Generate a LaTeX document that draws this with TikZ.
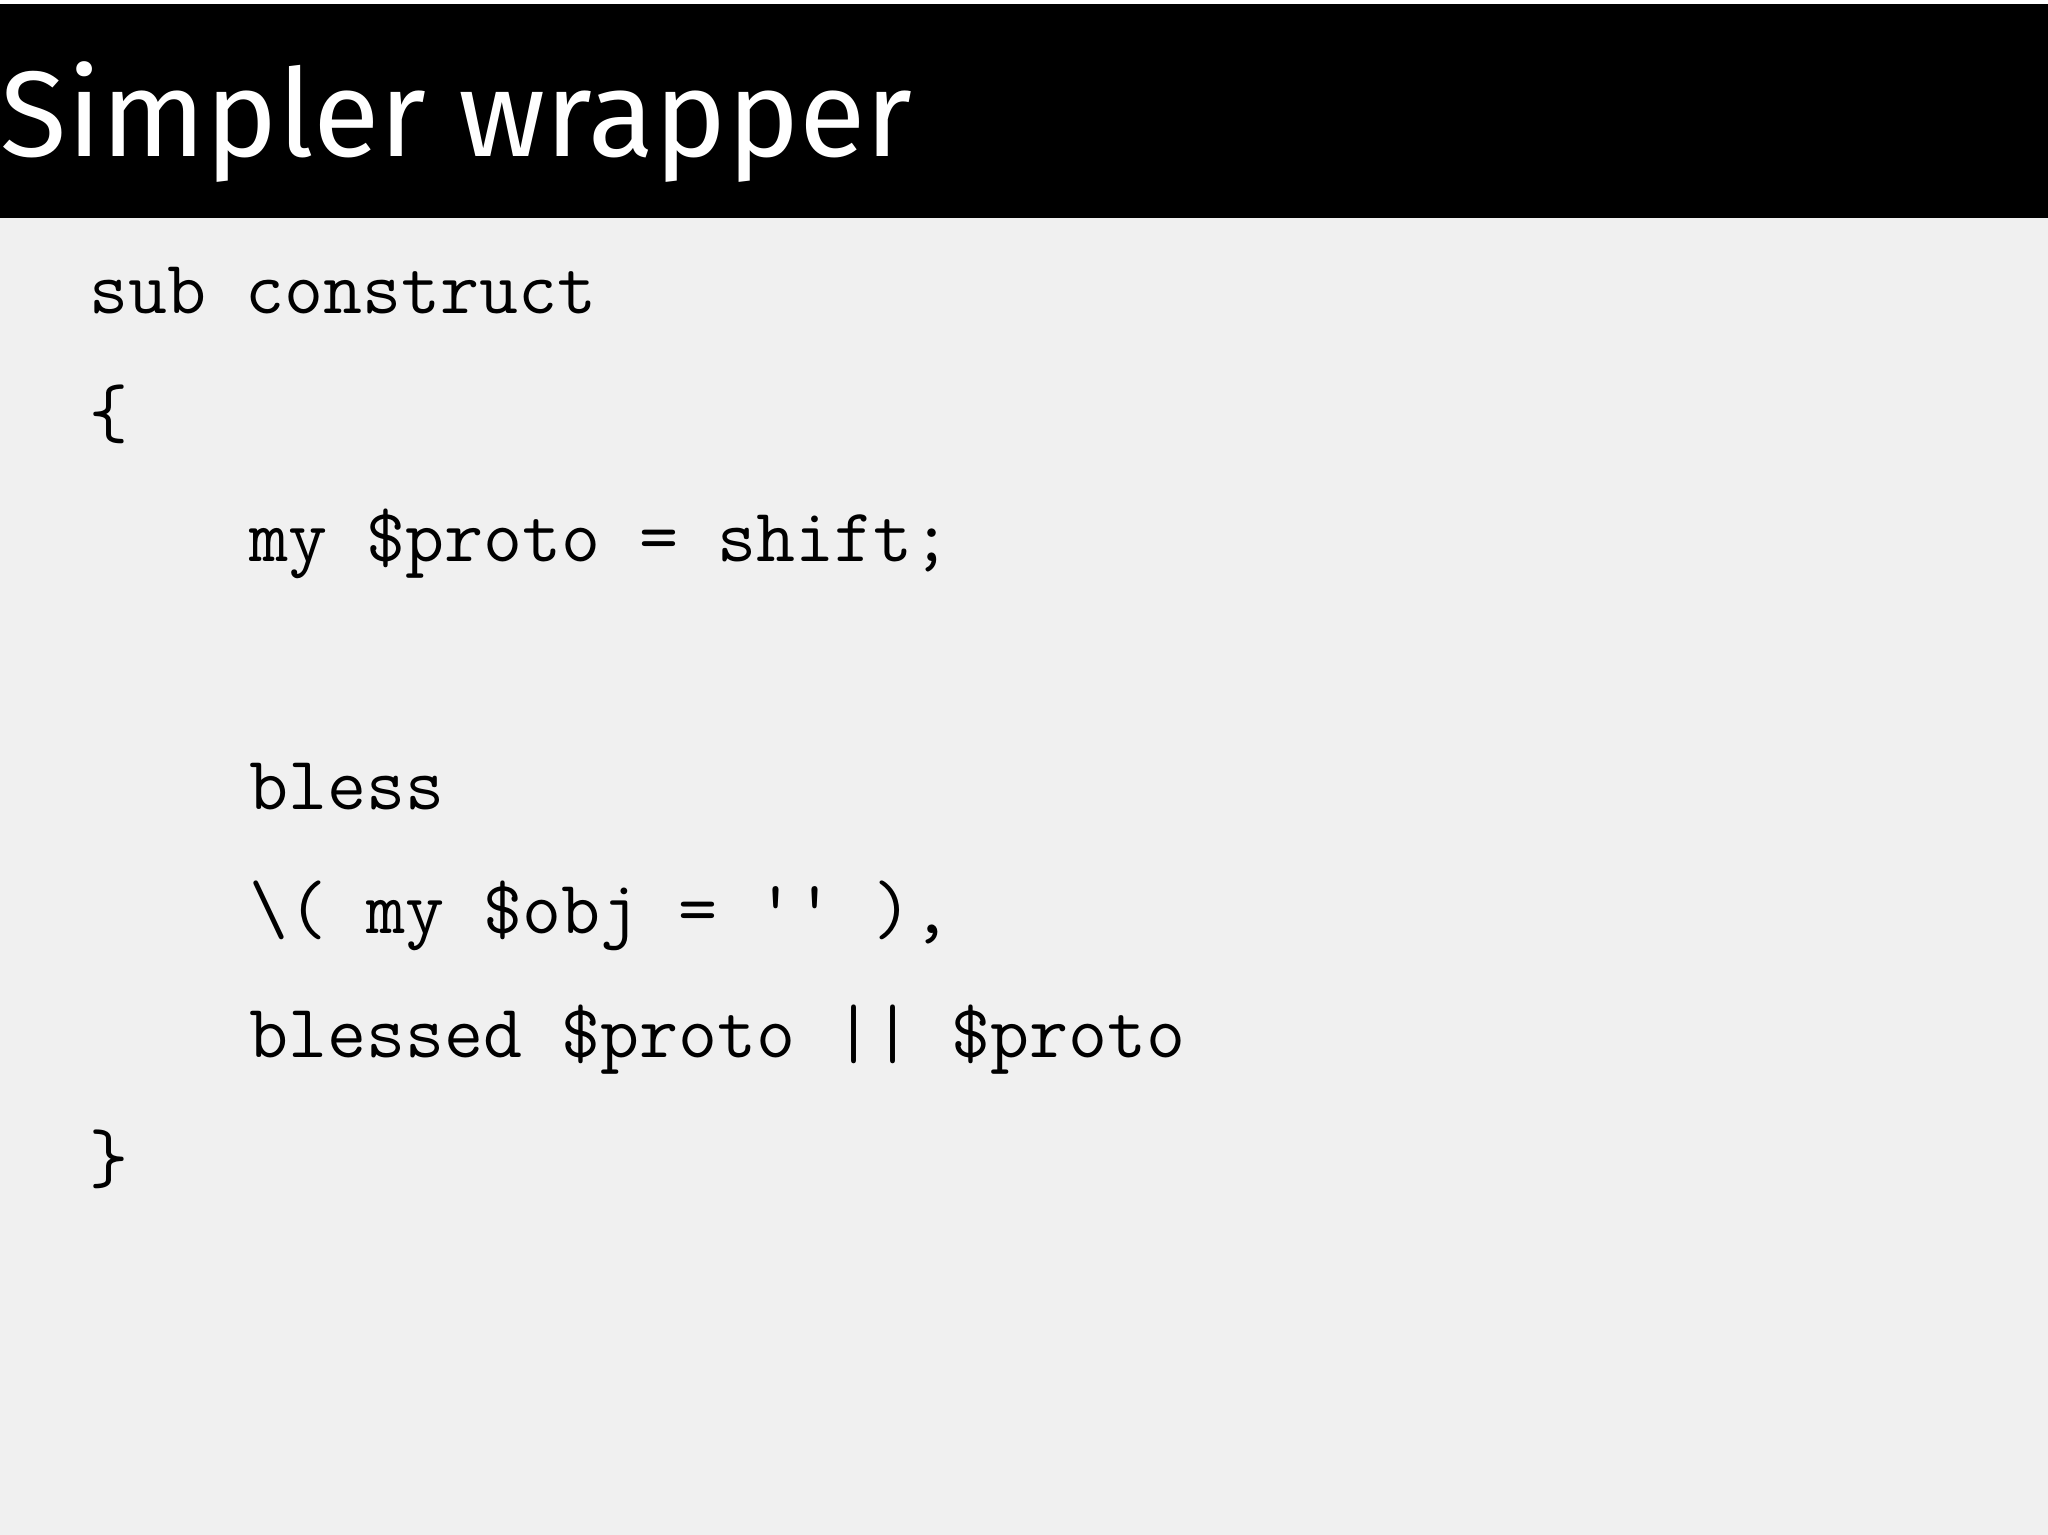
\documentclass[tikz,border=0pt]{standalone}
\usepackage{fontspec}
\setsansfont{Fira Sans}
\usepackage{xcolor}
\definecolor{slidebg}{HTML}{F0F0F0}
\begin{document}
\begin{tikzpicture}[x=1cm,y=-1cm]
      \useasboundingbox(0,0) rectangle (15.68,11.75);
      \tikzset{T/.style = {anchor=base west, inner sep=0pt, text=white, font=\sffamily\fontsize{26.5pt}{30pt}\selectfont}}
      \tikzset{C/.style = {anchor=base west, inner sep=0pt, text=black, font=\ttfamily\fontsize{16.5pt}{20pt}\selectfont}}
      \fill[slidebg] (0,0) rectangle (15.68,11.75);
      \fill[white] (0,0) rectangle (15.68,0.03);
      \fill[black] (0,0.03) rectangle (15.68,1.67);
      \node[T](title) at (0,1.20) {Simpler wrapper};
      \node[C](l1) at (0.68,2.40) {sub construct};
      \node[C](l2) at (0.68,3.35) {\{};
      \node[C](l3) at (1.90,4.30) {my \$proto = shift;};
      \node[C](l5) at (1.90,6.20) {bless};
      \node[C](l6) at (1.90,7.15) {\textbackslash( my \$obj = '{}' ),};
      \node[C](l7) at (1.90,8.10) {blessed \$proto || \$proto};
      \node[C](l8) at (0.68,9.05) {\}};
    \end{tikzpicture}
\end{document}
